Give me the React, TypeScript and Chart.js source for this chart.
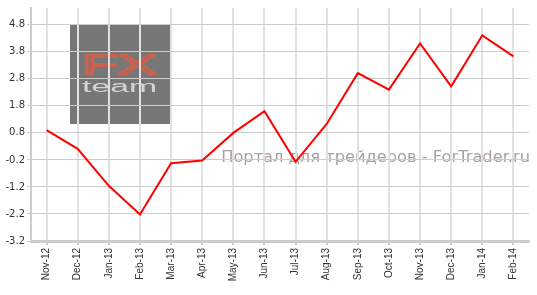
import React, { useEffect, useRef } from "react";
import { Chart, registerables } from "chart.js";
Chart.register(...registerables);

const categories = ["Nov-12", "Dec-12", "Jan-13", "Feb-13", "Mar-13", "Apr-13", "May-13", "Jun-13", "Jul-13", "Aug-13", "Sep-13", "Oct-13", "Nov-13", "Dec-13", "Jan-14", "Feb-14"];
const values = [0.9, 0.21, -1.16, -2.22, -0.32, -0.22, 0.8, 1.6, -0.27, 1.13, 3.01, 2.4, 4.11, 2.52, 4.41, 3.63];
const yTicks = [-3.2, -2.2, -1.2, -0.2, 0.8, 1.8, 2.8, 3.8, 4.8];
const watermarkText = "Портал для трейдеров - ForTrader.ru";
const logoTop = "FX";
const logoBottom = "team";

const decorPlugin = {
  id: "decor",
  beforeDraw(chart: any) {
    const ctx = chart.ctx;
    ctx.save();
    // logo box
    ctx.fillStyle = "#777777";
    ctx.fillRect(70, 24, 100, 100);
    // FX
    ctx.font = "28px 'Liberation Sans'";
    ctx.textBaseline = "alphabetic";
    ctx.textAlign = "left";
    let w = ctx.measureText(logoTop).width;
    ctx.save();
    ctx.translate(82, 74);
    ctx.scale(75 / w, 1);
    ctx.strokeStyle = "#d0604e";
    ctx.lineWidth = 1.8;
    ctx.lineJoin = "round";
    ctx.strokeText(logoTop, 0, 0);
    ctx.restore();
    // team
    ctx.font = "16px 'Liberation Sans'";
    w = ctx.measureText(logoBottom).width;
    ctx.save();
    ctx.translate(82, 92);
    ctx.scale(75 / w, 1);
    ctx.fillStyle = "#d4d4d4";
    ctx.fillText(logoBottom, 0, 0);
    ctx.restore();
    // watermark
    ctx.font = "15px 'DejaVu Sans'";
    const tw = ctx.measureText(watermarkText).width;
    const size = 15 * (309 / tw);
    ctx.font = `${size}px 'DejaVu Sans'`;
    ctx.fillStyle = "#aaa0a0";
    ctx.textAlign = "right";
    ctx.textBaseline = "middle";
    ctx.fillText(watermarkText, 530, 158);
    ctx.restore();
  },
};

export default function App() {
  const ref = useRef<HTMLCanvasElement>(null);
  useEffect(() => {
    const chart = new Chart(ref.current!, {
      type: "line",
      data: {
        labels: categories,
        datasets: [
          {
            data: values,
            borderColor: "#ff0000",
            borderWidth: 2,
            pointRadius: 0,
            tension: 0,
            fill: false,
          },
        ],
      },
      plugins: [decorPlugin],
      options: {
        animation: false,
        responsive: false,
        layout: { padding: { top: 4, right: 8, left: 0, bottom: 0 } },
        plugins: { legend: { display: false }, tooltip: { enabled: false } },
        scales: {
          x: {
            offset: true,
            grid: { offset: false, color: "#e2e2e2", lineWidth: 2, drawTicks: true, tickLength: 4, tickColor: "#cccccc" },
            border: { color: "#cccccc", width: 3 },
            ticks: {
              autoSkip: false,
              minRotation: 90,
              maxRotation: 90,
              padding: 3,
              color: "#333333",
              font: { family: "'Liberation Sans', Arial", size: 10 },
            },
            afterFit(scale: any) {
              scale.height = 54;
            },
          },
          y: {
            min: -3.2,
            max: 5.42,
            afterBuildTicks(scale: any) {
              scale.ticks = yTicks.map((v) => ({ value: v }));
            },
            grid: { color: "#cccccc", lineWidth: 1, drawTicks: true, tickLength: 4, tickColor: "#cccccc" },
            border: { color: "#cccccc", width: 2 },
            ticks: {
              padding: 2,
              color: "#333333",
              font: { family: "'DejaVu Sans', Verdana", size: 10 },
              callback: (v: any) => Number(v).toFixed(1),
            },
            afterFit(scale: any) {
              scale.width = 31;
            },
          },
        },
      },
    });
    return () => chart.destroy();
  }, []);
  return (
    <div style={{ position: "fixed", left: 0, top: 0, width: 537, height: 295 }}>
      <canvas ref={ref} width={537} height={295} style={{ width: 537, height: 295 }} />
    </div>
  );
}
